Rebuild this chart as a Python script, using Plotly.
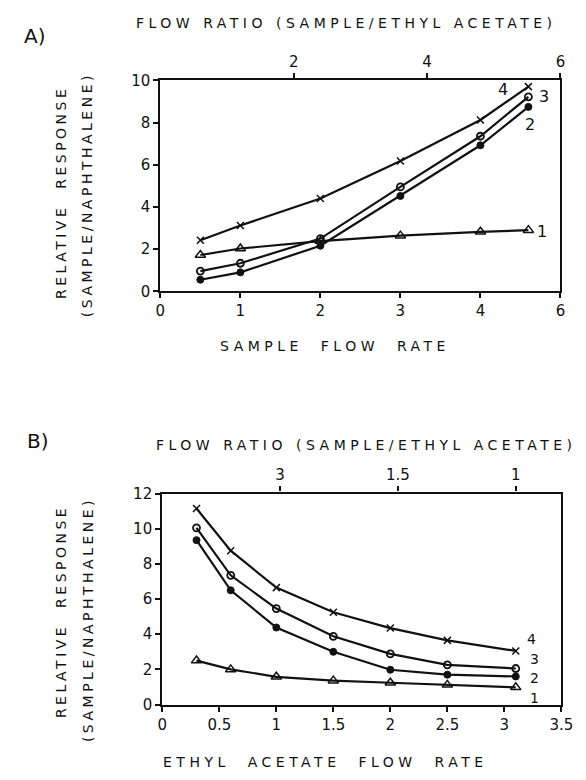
import plotly.graph_objects as go

# ---------------- Data ----------------
# Panel A: sample flow rate (axis positions) vs relative response
a_x = [0.5, 1, 2, 3, 4, 4.6]
a_s1 = [1.72, 2.03, 2.38, 2.64, 2.82, 2.9]
a_s2 = [0.55, 0.9, 2.16, 4.52, 6.92, 8.74]
a_s3 = [0.96, 1.33, 2.5, 4.95, 7.35, 9.22]
a_s4 = [2.42, 3.12, 4.4, 6.18, 8.12, 9.7]
a_xticks = [0, 1, 2, 3, 4, 5]
a_xticktext = ["0", "1", "2", "3", "4", "6"]
a_top_ticks = [2, 4, 6]

# Panel B: ethyl acetate flow rate vs relative response
b_x = [0.3, 0.6, 1, 1.5, 2, 2.5, 3.1]
b_s1 = [2.5, 2.0, 1.58, 1.36, 1.24, 1.12, 0.98]
b_s2 = [9.35, 6.5, 4.38, 3.0, 1.98, 1.7, 1.6]
b_s3 = [10.05, 7.35, 5.46, 3.88, 2.88, 2.26, 2.05]
b_s4 = [11.15, 8.75, 6.65, 5.25, 4.35, 3.65, 3.05]
b_xticks = [0, 0.5, 1, 1.5, 2, 2.5, 3, 3.5]
b_xticktext = ["0", "0.5", "1", "1.5", "2", "2.5", "3", "3.5"]
b_sample_flow = 3.1
b_ratio_ticks = [3, 1.5, 1]
b_ratio_text = ["3", "1.5", "1"]

series_labels = ["1", "2", "3", "4"]

FONT = "DejaVu Sans"
BLACK = "#111111"

fig = go.Figure()

marker_styles = [
    dict(symbol="triangle-up-open", size=9, color=BLACK, line=dict(width=1.5, color=BLACK)),
    dict(symbol="circle", size=7, color=BLACK, line=dict(width=1, color=BLACK)),
    dict(symbol="circle-open", size=7, color=BLACK, line=dict(width=1.8, color=BLACK)),
    dict(symbol="x-thin", size=7, color=BLACK, line=dict(width=1.5, color=BLACK)),
]

for ys, m in zip([a_s1, a_s2, a_s3, a_s4], marker_styles):
    fig.add_trace(go.Scatter(x=a_x, y=ys, mode="lines+markers", xaxis="x", yaxis="y",
                             line=dict(color=BLACK, width=2.2), marker=m, showlegend=False))
for ys, m in zip([b_s1, b_s2, b_s3, b_s4], marker_styles):
    fig.add_trace(go.Scatter(x=b_x, y=ys, mode="lines+markers", xaxis="x3", yaxis="y2",
                             line=dict(color=BLACK, width=2.2), marker=m, showlegend=False))

# dummy traces so top axes render
fig.add_trace(go.Scatter(x=a_top_ticks, y=[None] * len(a_top_ticks), xaxis="x2", yaxis="y",
                         showlegend=False, hoverinfo="skip"))
fig.add_trace(go.Scatter(x=[b_sample_flow / r for r in b_ratio_ticks], y=[None] * 3,
                         xaxis="x4", yaxis="y2", showlegend=False, hoverinfo="skip"))

tickfont = dict(family=FONT, size=15, color=BLACK)
axcommon = dict(showline=True, linecolor=BLACK, linewidth=2.2, ticks="outside", ticklen=5,
                tickwidth=1.5, tickcolor=BLACK, showgrid=False, zeroline=False, tickfont=tickfont)

A_dom_y = [1 - 289 / 780, 1 - 73 / 780]
B_dom_y = [1 - 712 / 780, 1 - 496 / 780]
A_dom_x = [160 / 586, 572 / 586]
B_dom_x = [162 / 586, 573 / 586]

fig.update_layout(
    width=586, height=780, margin=dict(l=0, r=0, t=0, b=0),
    paper_bgcolor="white", plot_bgcolor="white",
    xaxis=dict(domain=A_dom_x, range=[0, 5], anchor="y", tickvals=a_xticks, ticktext=a_xticktext,
               **axcommon),
    xaxis2=dict(domain=A_dom_x, range=[0, 6], anchor="y", overlaying="x", side="top",
                tickvals=a_top_ticks, ticktext=[str(t) for t in a_top_ticks], **axcommon),
    yaxis=dict(domain=A_dom_y, range=[0, 10], anchor="x", tickvals=[0, 2, 4, 6, 8, 10],
               mirror=True, **axcommon),
    xaxis3=dict(domain=B_dom_x, range=[0, 3.5], anchor="y2", tickvals=b_xticks, ticktext=b_xticktext,
                **axcommon),
    xaxis4=dict(domain=B_dom_x, range=[0, 3.5], anchor="y2", overlaying="x3", side="top",
                tickvals=[b_sample_flow / r for r in b_ratio_ticks], ticktext=b_ratio_text, **axcommon),
    yaxis2=dict(domain=B_dom_y, range=[0, 12], anchor="x3", tickvals=[0, 2, 4, 6, 8, 10, 12],
                mirror=True, **axcommon),
)


def sp(t, ls=4.5):
    return f'<span style="letter-spacing:{ls}px">{t}</span>'


ann_font = dict(family=FONT, size=14, color=BLACK)
anns = [
    dict(text="A)", x=30, y=28, font=dict(family=FONT, size=20, color=BLACK)),
    dict(text="B)", x=34, y=442, font=dict(family=FONT, size=20, color=BLACK)),
    dict(text=sp("FLOW RATIO (SAMPLE/ETHYL ACETATE)"), x=352, y=14, font=ann_font),
    dict(text=sp("FLOW RATIO (SAMPLE/ETHYL ACETATE)"), x=372, y=446, font=ann_font),
    dict(text=sp("SAMPLE  FLOW  RATE"), x=340, y=345, font=ann_font),
    dict(text=sp("ETHYL  ACETATE  FLOW  RATE"), x=330, y=771, font=ann_font),
    dict(text=sp("RELATIVE  RESPONSE", 3.5), x=57, y=188, font=ann_font, textangle=-90),
    dict(text=sp("(SAMPLE/NAPHTHALENE)", 3.5), x=84, y=190, font=ann_font, textangle=-90),
    dict(text=sp("RELATIVE  RESPONSE", 3.5), x=57, y=617, font=ann_font, textangle=-90),
    dict(text=sp("(SAMPLE/NAPHTHALENE)", 3.5), x=85, y=625, font=ann_font, textangle=-90),
]
for a in anns:
    fig.add_annotation(text=a["text"], x=a["x"] / 586, y=1 - a["y"] / 780, xref="paper", yref="paper",
                       showarrow=False, font=a["font"], textangle=a.get("textangle", 0),
                       xanchor="center", yanchor="middle")

# series number labels (data coordinates)
a_lab_pos = [(4.77, 2.85), (4.62, 7.9), (4.8, 9.25), (4.28, 9.55)]
b_lab_pos = [(3.26, 0.4), (3.26, 1.5), (3.26, 2.6), (3.24, 3.75)]
for lab, (x, y) in zip(series_labels, a_lab_pos):
    fig.add_annotation(text=lab, x=x, y=y, xref="x", yref="y", showarrow=False,
                       font=dict(family=FONT, size=16, color=BLACK))
for lab, (x, y) in zip(series_labels, b_lab_pos):
    fig.add_annotation(text=lab, x=x, y=y, xref="x3", yref="y2", showarrow=False,
                       font=dict(family=FONT, size=14, color=BLACK), borderpad=0)

fig.write_html("out.html")
